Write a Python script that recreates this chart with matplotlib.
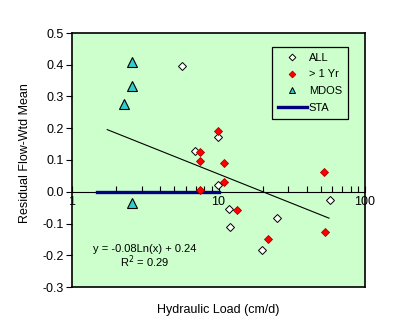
import matplotlib; matplotlib.use("Agg")
import matplotlib.pyplot as plt
from matplotlib.lines import Line2D
from matplotlib.ticker import LogLocator, FixedLocator, NullFormatter
import numpy as np

plt.rcParams.update({"font.family": ["Liberation Sans", "DejaVu Sans"], "font.size": 8.5})
GREEN = "#CCFFCC"; TEAL = "#33CCCC"; NAVY = "#000080"

# data
all_x = [5.63, 6.95, 9.87, 9.92, 11.8, 11.97, 25.1, 19.8, 57.7]
all_y = [0.397, 0.127, 0.172, 0.020, -0.055, -0.112, -0.082, -0.184, -0.027]
yr_x = [7.48, 7.48, 7.48, 9.87, 10.9, 10.9, 13.4, 21.8, 52.5, 53.4]
yr_y = [0.124, 0.098, 0.004, 0.192, 0.089, 0.032, -0.056, -0.150, 0.061, -0.128]
mdos_x = [2.58, 2.58, 2.28, 2.58]
mdos_y = [0.410, 0.332, 0.277, -0.034]
sta_x = [1.47, 10.0]
sta_y = [0.0, 0.0]
trend_a, trend_b = -0.08, 0.24
trend_x = np.array([1.74, 56.8])

fig = plt.figure(figsize=(4.03, 3.35), dpi=100)
W, H = 403, 335
ax = fig.add_axes([72/W, (H-287)/H, (365-72)/W, (287-33)/H])
ax.set_facecolor(GREEN)
ax.set_xscale("log")
ax.set_xlim(1, 100); ax.set_ylim(-0.3, 0.5)

ax.plot(sta_x, sta_y, color=NAVY, lw=2.4, zorder=3)
ax.plot(trend_x, trend_a*np.log(trend_x)+trend_b, color="black", lw=0.8, zorder=3)
ax.plot(all_x, all_y, ls="none", marker="D", ms=3.6, mfc="white", mec="black", mew=0.7, zorder=4)
ax.plot(yr_x, yr_y, ls="none", marker="D", ms=3.6, mfc="#FF0000", mec="#AA0000", mew=0.6, zorder=5)
ax.plot(mdos_x, mdos_y, ls="none", marker="^", ms=6.5, mfc=TEAL, mec="black", mew=0.8, zorder=5)

# x axis crosses at y=0, plot area keeps its border
ax.spines["bottom"].set_position(("data", 0))
ax.plot([0, 1], [0, 0], transform=ax.transAxes, color="black", lw=1.2, clip_on=False)
for s in ["top", "left", "right"]:
    ax.spines[s].set_linewidth(1.2)
ax.xaxis.set_major_locator(FixedLocator([1, 10, 100]))
ax.xaxis.set_minor_locator(LogLocator(base=10, subs=np.arange(2, 10)))
ax.xaxis.set_minor_formatter(NullFormatter())
ax.set_xticklabels(["1", "10", "100"])
ax.tick_params(axis="x", which="both", direction="in", length=4, width=0.8, pad=3, labelsize=9)
ax.set_yticks(np.arange(-0.3, 0.51, 0.1))
ax.set_yticklabels([f"{v:.1f}" for v in np.arange(-0.3, 0.51, 0.1)])
ax.tick_params(axis="y", direction="out", length=4, width=0.8, pad=2, labelsize=9)

ax.text(145/W, (H-249)/H, "y = -0.08Ln(x) + 0.24", transform=fig.transFigure, ha="center", va="center", fontsize=8)
ax.text(145/W, (H-262)/H, "R$^2$ = 0.29", transform=fig.transFigure, ha="center", va="center", fontsize=8)

fig.text(218/W, (H-310)/H, "Hydraulic Load (cm/d)", ha="center", va="center", fontsize=9)
fig.text(25/W, (H-153)/H, "Residual Flow-Wtd Mean", ha="center", va="center", rotation=90, fontsize=9)

handles = [
    Line2D([], [], ls="none", marker="D", ms=3.4, mfc="white", mec="black", mew=0.7),
    Line2D([], [], ls="none", marker="D", ms=3.4, mfc="#FF0000", mec="#AA0000", mew=0.6),
    Line2D([], [], ls="none", marker="^", ms=4.5, mfc=TEAL, mec="black", mew=0.7),
    Line2D([], [], color=NAVY, lw=2.4),
]
leg = ax.legend(handles, ["ALL", "> 1 Yr", "MDOS", "STA"], loc="upper left",
                bbox_to_anchor=(0.662, 0.968), fontsize=8, frameon=True, fancybox=False,
                edgecolor="black", facecolor=GREEN, framealpha=1, handlelength=2.6,
                labelspacing=0.6, borderpad=0.55, handletextpad=0.2)
leg.get_frame().set_linewidth(0.9)

fig.savefig("out.png", dpi=100)
